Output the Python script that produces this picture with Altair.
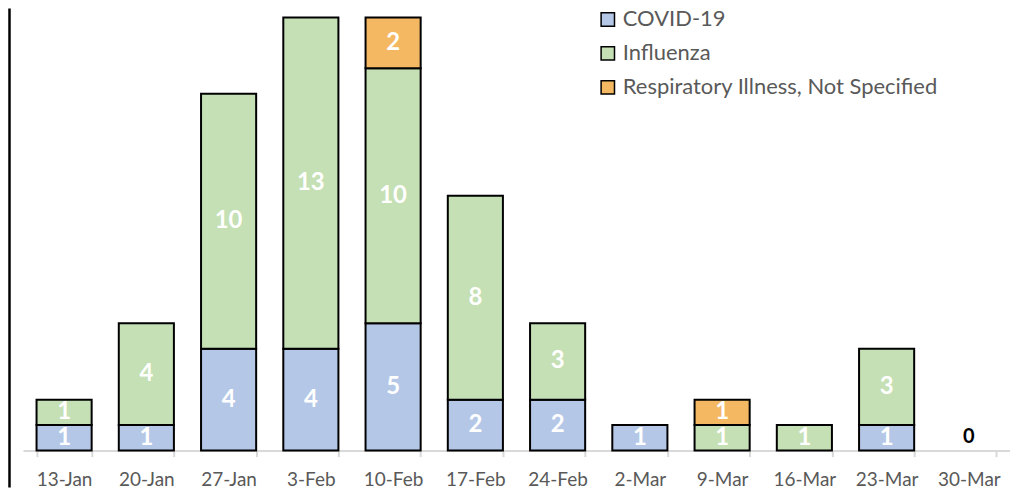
import altair as alt
import pandas as pd

weeks = ["13-Jan", "20-Jan", "27-Jan", "3-Feb", "10-Feb", "17-Feb",
         "24-Feb", "2-Mar", "9-Mar", "16-Mar", "23-Mar", "30-Mar"]
series = ["COVID-19", "Influenza", "Respiratory Illness, Not Specified"]
covid = [1, 1, 4, 4, 5, 2, 2, 1, 0, 0, 1, 0]
flu = [1, 4, 10, 13, 10, 8, 3, 0, 1, 1, 3, 0]
resp = [0, 0, 0, 0, 2, 0, 0, 0, 1, 0, 0, 0]
colors = ["#B4C7E7", "#C5E0B4", "#F4B862"]

rows = []
for i, w in enumerate(weeks):
    for k, vals in enumerate([covid, flu, resp]):
        if vals[i] > 0:
            rows.append({"week": w, "series": series[k], "value": vals[i], "ord": k})
df = pd.DataFrame(rows)

totals = pd.DataFrame({"week": weeks,
                       "total": [c + f + r for c, f, r in zip(covid, flu, resp)]})
zeros = totals[totals["total"] == 0]

FONT = "Lato"

xenc = alt.X("week:N", sort=weeks, title=None,
             scale=alt.Scale(paddingInner=0.33, paddingOuter=0.165),
             axis=alt.Axis(labelAngle=0, labelFontSize=19, labelColor="#595959",
                           labelFont=FONT, domainColor="#D9D9D9", domainWidth=2,
                           tickColor="#D9D9D9", tickWidth=2, tickSize=6,
                           tickBand="extent", labelPadding=14))
yscale = alt.Scale(domain=[0, 17.35], nice=False)

base = alt.Chart(df).transform_stack(
    stack="value", groupby=["week"], as_=["y0", "y1"],
    sort=[alt.SortField("ord", order="ascending")]
).transform_calculate(mid="(datum.y0 + datum.y1) / 2")

bars = base.mark_bar(stroke="black", strokeWidth=2).encode(
    x=xenc,
    y=alt.Y("y0:Q", scale=yscale, axis=None),
    y2="y1:Q",
    color=alt.Color("series:N", scale=alt.Scale(domain=series, range=colors),
                    legend=alt.Legend(title=None, orient="none", legendX=575, legendY=0,
                                      symbolType="square", symbolSize=180,
                                      symbolStrokeColor="black", symbolStrokeWidth=1.5,
                                      labelFontSize=22, labelColor="#595959",
                                      labelFont=FONT, rowPadding=12, labelOffset=4,
                                      labelLimit=500)),
    order=alt.Order("ord:Q"),
)

labels = base.mark_text(color="white", fontSize=24, fontWeight="bold",
                        font=FONT, baseline="middle").encode(
    x=alt.X("week:N", sort=weeks),
    y=alt.Y("mid:Q", scale=yscale),
    text="value:Q",
)

zero_lbl = alt.Chart(zeros).mark_text(color="black", fontSize=20, fontWeight="bold",
                                      font=FONT, baseline="middle", dy=-14).encode(
    x=alt.X("week:N", sort=weeks),
    y=alt.Y("total:Q", scale=yscale),
    text="total:Q",
)

border = alt.Chart(pd.DataFrame({"a": [0]})).mark_rule(color="black", strokeWidth=2.5).encode(
    x=alt.value(-13.5), y=alt.value(0), y2=alt.value(480))

chart = alt.layer(bars, labels, zero_lbl, border).properties(
    width=989, height=443,
    autosize=alt.AutoSizeParams(type="none"),
    padding={"left": 15, "top": 0, "right": 0, "bottom": 40},
).configure_view(stroke=None)

chart.save("out.html", embed_options={"renderer": "svg", "actions": False})
